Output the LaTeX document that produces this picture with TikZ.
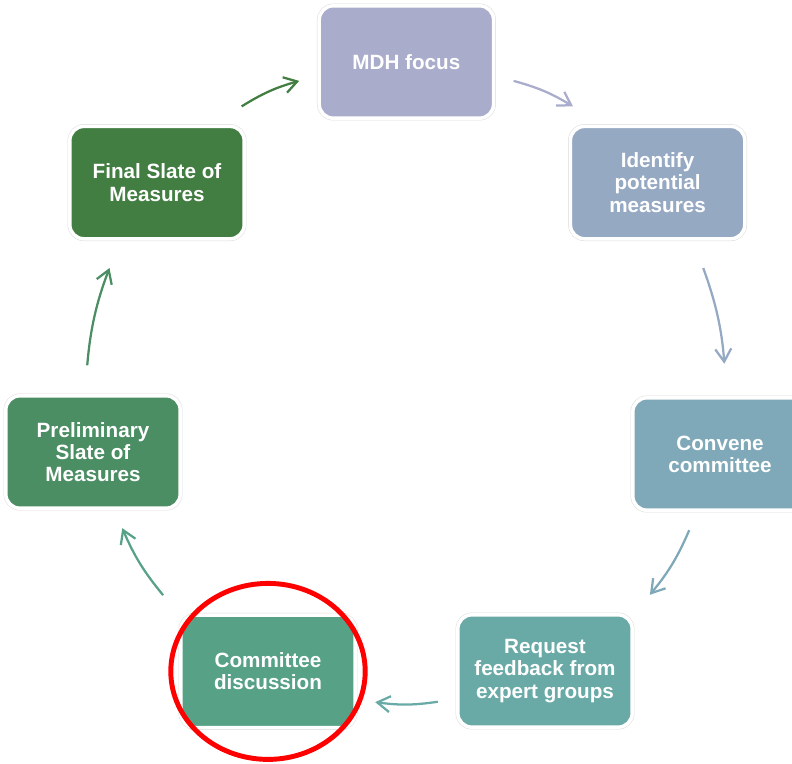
\documentclass[tikz,border=0pt]{standalone}
\usepackage{fontspec}
\usepackage{tikz}
\usetikzlibrary{arrows.meta}
\newfontfamily\stagesans{Liberation Sans}

\definecolor{mdhcol}{HTML}{A9ACCB}
\definecolor{identcol}{HTML}{96A9C3}
\definecolor{convcol}{HTML}{7FA8B8}
\definecolor{reqcol}{HTML}{69AAA7}
\definecolor{disccol}{HTML}{57A287}
\definecolor{prelcol}{HTML}{4B8E64}
\definecolor{finalcol}{HTML}{427D42}

\tikzset{
  stage/.style={rectangle, rounded corners=10pt, minimum width=4.36cm,
    minimum height=2.81cm, align=center, text=white,
    font=\stagesans\bfseries\fontsize{14.7}{15.8}\selectfont,
    preaction={draw=black!14, line width=3.2pt},
    draw=white, line width=2.5pt, outer sep=0.5cm},
  flow/.style={->, line width=1.6pt, >={Straight Barb[length=3.2mm, width=4mm]}},
  hilite/.style={draw=red, line width=3.5pt}
}

\begin{document}
\begin{tikzpicture}
   \useasboundingbox (0,0) rectangle (19.8,19.075);
   \clip (0,0) rectangle (19.8,19.075);

   \node[stage, fill=mdhcol]   (mdh)      at (10.16,17.525) {MDH focus};
   \node[stage, fill=identcol] (identify) at (16.44,14.51)  {Identify\\potential\\measures};
   \node[stage, fill=convcol]  (convene)  at (18.0,7.725)   {Convene\\committee};
   \node[stage, fill=reqcol]   (request)  at (13.625,2.3)   {Request\\feedback from\\expert groups};
   \node[stage, fill=disccol]  (discuss)  at (6.7,2.29)     {Committee\\discussion};
   \node[stage, fill=prelcol]  (prelim)   at (2.325,7.775)  {Preliminary\\Slate of\\Measures};
   \node[stage, fill=finalcol] (final)    at (3.925,14.51)  {Final Slate of\\Measures};

    \path[flow]
    (mdh.-10)      edge [bend left=8, mdhcol]   (identify.138)
    (identify.-61) edge [bend left=8, identcol, shorten <=7pt, shorten >=10pt] (convene.86)
    (convene.248)  edge [bend left=8, convcol]  (request.36)
    (request.196)  edge [bend left=8, reqcol]   (discuss.-16)
    (discuss.144)  edge [bend left=8, disccol]  (prelim.-69)
    (prelim.95)    edge [bend left=8, prelcol, shorten <=7.5pt, shorten >=7pt] (final.240)
    (final.42)     edge [bend left=8, finalcol] (mdh.190);

   % highlighted step
   \draw[hilite] (discuss) ellipse [x radius=2.43cm, y radius=2.2cm];
\end{tikzpicture}
\end{document}
